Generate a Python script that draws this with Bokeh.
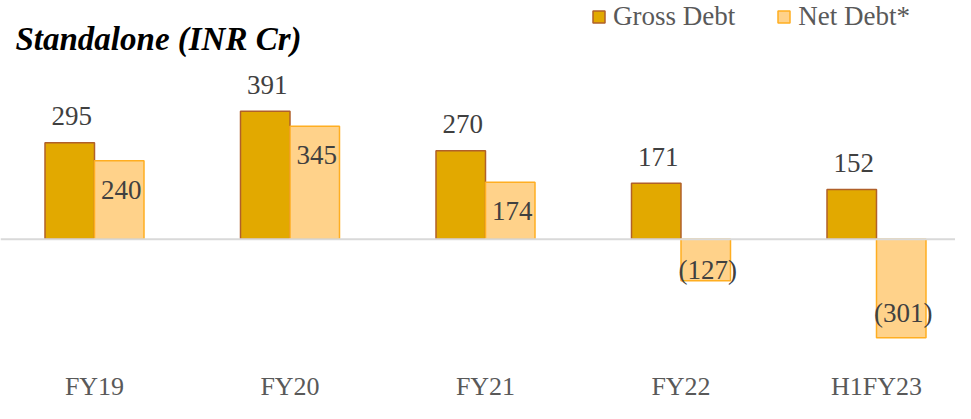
from bokeh.plotting import figure
from bokeh.models import ColumnDataSource, Legend, LegendItem, Span, FixedTicker, Label
from bokeh.transform import dodge
from bokeh.core.properties import value
from bokeh.embed import file_html
from bokeh.resources import INLINE

# ---- data ----
categories = ["FY19", "FY20", "FY21", "FY22", "H1FY23"]
gross_debt = [295, 391, 270, 171, 152]
net_debt = [240, 345, 174, -127, -301]

# ---- styles ----
FONT = "Liberation Serif"
GROSS_FILL, GROSS_LINE = "#E2A900", "#B0602A"
NET_FILL, NET_LINE = "#FFD28A", "#FFAE21"
BAR_W = 0.2532
net_label_offsets = [29, 29, 29, -11, -25]


def fmt(v):
    return f"({abs(v)})" if v < 0 else f"{v}"


idx = list(range(len(categories)))
src = ColumnDataSource(dict(
    x=idx,
    gross=gross_debt,
    net=net_debt,
    gross_lbl=[fmt(v) for v in gross_debt],
    net_lbl=[fmt(v) for v in net_debt],
    net_off=net_label_offsets,
))

p = figure(width=955, height=403, x_range=(-0.4808, 4.4041), y_range=(-373.9, 729.5),
           output_backend="svg", toolbar_location=None, y_axis_location=None,
           min_border_left=0, min_border_right=0, min_border_top=0, min_border_bottom=40)
p.outline_line_color = None
p.xgrid.visible = False
p.ygrid.visible = False
p.background_fill_color = "white"

g = p.vbar(x=dodge("x", -BAR_W / 2, range=p.x_range), top="gross", bottom=0, width=BAR_W,
           source=src, fill_color=GROSS_FILL, line_color=GROSS_LINE, line_width=1.5)
n = p.vbar(x=dodge("x", BAR_W / 2, range=p.x_range), top="net", bottom=0, width=BAR_W,
           source=src, fill_color=NET_FILL, line_color=NET_LINE, line_width=1.5)

p.add_layout(Span(location=0, dimension="width", line_color="#D9D9D9", line_width=2))

p.text(x=dodge("x", -BAR_W / 2, range=p.x_range), y="gross", text="gross_lbl", source=src,
       text_align="center", text_baseline="middle", y_offset=-26.5, x_offset=2,
       text_font=value(FONT), text_font_size="27px", text_color="#404040")
p.text(x=dodge("x", BAR_W / 2, range=p.x_range), y="net", text="net_lbl", source=src,
       text_align="center", text_baseline="middle", y_offset="net_off", x_offset=2,
       text_font=value(FONT), text_font_size="27px", text_color="#404040")

ax = p.xaxis[0]
ax.ticker = FixedTicker(ticks=idx)
ax.major_label_overrides = {i: c for i, c in zip(idx, categories)}
ax.axis_line_color = None
ax.major_tick_line_color = None
ax.minor_tick_line_color = None
ax.major_label_standoff = 4
ax.major_label_text_font = FONT
ax.major_label_text_font_size = "26px"
ax.major_label_text_color = "#595959"

legend = Legend(items=[LegendItem(label="Gross Debt", renderers=[g]),
                       LegendItem(label="Net Debt*", renderers=[n])],
                orientation="horizontal", location=(591, 329),
                glyph_width=15, glyph_height=15, label_standoff=7, spacing=41,
                padding=0, margin=0, border_line_color=None, background_fill_alpha=0,
                label_text_font=FONT, label_text_font_size="27px", label_text_color="#595959")
p.add_layout(legend)

p.add_layout(Label(x=-0.4041, y=611, text="Standalone (INR Cr)", text_font=FONT,
                   text_font_size="33px", text_font_style="bold italic", text_color="black",
                   text_baseline="alphabetic"))

open("out.html", "w").write(file_html(p, INLINE))
